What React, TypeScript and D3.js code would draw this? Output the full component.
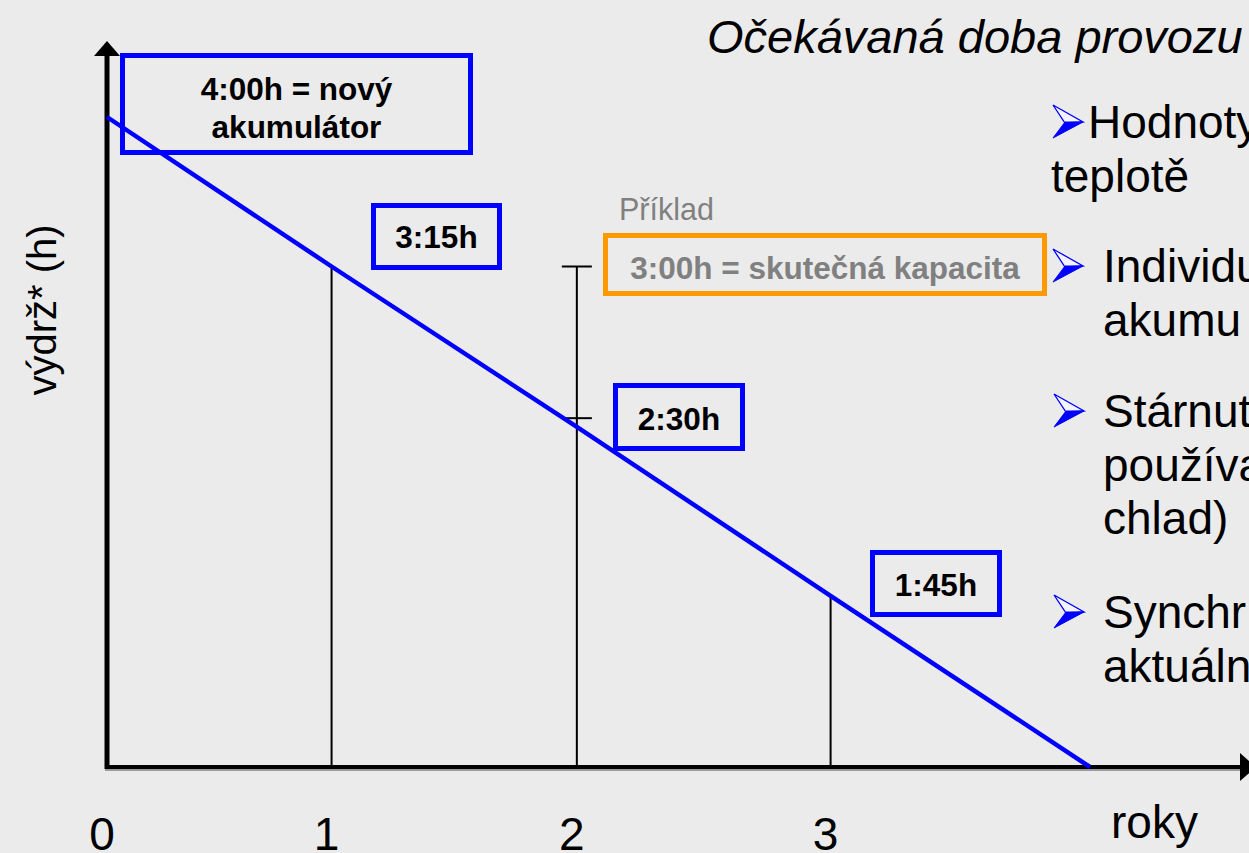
import React from 'react';
import * as d3 from 'd3';

// schematic battery runtime vs. age
const years = [0, 1, 2, 3, 4];
const hours = [4.0, 3.31, 2.57, 1.79, 1.0];
const dropYears = [1, 3];
const errYear = 2;
const errTop = 3.31;
const errMid = 2.61;
const tickLabels = ['0', '1', '2', '3'];

const bullets = [
  { lines: ['Hodnoty', 'teplotě'], hang: false },
  { lines: ['Individu', 'akumu'], hang: true },
  { lines: ['Stárnut', 'používa', 'chlad)'], hang: true },
  { lines: ['Synchr', 'aktuáln'], hang: true },
];

const W = 1249;
const H = 853;
const FONT = '"Liberation Sans", Arial, sans-serif';
const BLUE = '#0000ff';
const ORANGE = '#ff9900';
const GRAY = '#808080';

const Arrowhead = ({x, y}: {x: number, y: number}) => (
  <g>
    <path d={`M${x},${y} L${x + 30},${y + 17} L${x + 12},${y + 18} Z`} fill="#f4f4ff" stroke={BLUE} strokeWidth={1.3} />
    <path d={`M${x + 12},${y + 17} L${x + 30},${y + 17} L${x},${y + 33} Z`} fill={BLUE} stroke={BLUE} strokeWidth={1} />
  </g>
);

const Box = ({x, y, w, h, color, lines, textColor, baseline, lineGap = 38}: any) => (
  <g>
    <rect x={x} y={y} width={w} height={h} fill="none" stroke={color} strokeWidth={5} />
    {lines.map((t: string, i: number) => (
      <text key={i} x={x + w / 2} y={baseline + i * lineGap} textAnchor="middle"
        fontFamily={FONT} fontWeight="bold" fontSize={31.5} fill={textColor}>{t}</text>
    ))}
  </g>
);

export default function App() {
  // the slide's year spacing widens slightly to the right
  const x = d3.scalePow().exponent(1.065).domain([0, 4]).range([107, 1090]);
  const y = d3.scaleLinear().domain([1, 4]).range([767, 117]);

  const pts = years.map((t, i) => [x(t), y(hours[i])] as [number, number]);
  const line = d3.line()(pts) as string;
  const hAt = (t: number) => hours[years.indexOf(t)];

  const x0 = x(0);
  const yFloor = y(1);

  // bullet layout
  const bulletRows = [
    { ax: 1053, ay: 105, tx: 1088, base: 138 },
    { ax: 1053, ay: 249, tx: 1103, base: 282 },
    { ax: 1054, ay: 394, tx: 1103, base: 427 },
    { ax: 1054, ay: 595, tx: 1103, base: 628 },
  ];

  return (
    <svg width={W} height={H} style={{position: 'absolute', left: 0, top: 0}}>
      <rect width={W} height={H} fill="#ebebeb" />

      {/* title */}
      <text x={707} y={53} fontFamily={FONT} fontStyle="italic" fontSize={47}>Očekávaná doba provozu</text>

      {/* drop lines */}
      {dropYears.map(t => (
        <line key={t} x1={x(t)} x2={x(t)} y1={y(hAt(t))} y2={yFloor} stroke="#000" strokeWidth={2} />
      ))}

      {/* error bar */}
      <line x1={x(errYear)} x2={x(errYear)} y1={y(errTop)} y2={yFloor} stroke="#000" strokeWidth={2} />
      <line x1={x(errYear) - 15} x2={x(errYear) + 15} y1={y(errTop)} y2={y(errTop)} stroke="#000" strokeWidth={2} />
      <line x1={x(errYear) - 15} x2={x(errYear) + 15} y1={y(errMid)} y2={y(errMid)} stroke="#000" strokeWidth={2} />

      {/* axes */}
      <line x1={x0 - 2} x2={1240} y1={yFloor + 3} y2={yFloor + 3} stroke="#9a9a9a" strokeWidth={2} />
      <line x1={x0 - 2} x2={1240} y1={yFloor} y2={yFloor} stroke="#000" strokeWidth={4} />
      <path d={`M1240,${yFloor - 14} L1256,${yFloor} L1240,${yFloor + 14} Z`} fill="#000" />
      <line x1={x0} x2={x0} y1={yFloor + 2} y2={55} stroke="#000" strokeWidth={5} />
      <path d={`M${x0 - 13},56 L${x0},41 L${x0 + 13},56 Z`} fill="#000" />

      {/* runtime line */}
      <path d={line} fill="none" stroke={BLUE} strokeWidth={4.5} />

      {/* tick labels */}
      {tickLabels.map((l, i) => (
        <text key={l} x={x(i) - 5} y={850} textAnchor="middle" fontFamily={FONT} fontSize={46}>{l}</text>
      ))}
      <text x={1111} y={838} fontFamily={FONT} fontSize={46}>roky</text>
      <text transform="translate(56,310) rotate(-90)" textAnchor="middle" fontFamily={FONT} fontSize={40}>výdrž* (h)</text>

      {/* annotations */}
      <Box x={122.5} y={55.5} w={348} h={97} color={BLUE} textColor="#000" lines={['4:00h = nový', 'akumulátor']} baseline={100} />
      <Box x={373.5} y={205.5} w={126} h={62} color={BLUE} textColor="#000" lines={['3:15h']} baseline={248} />
      <text x={619} y={220} fontFamily={FONT} fontSize={30.5} fill={GRAY}>Příklad</text>
      <Box x={605.5} y={235.5} w={439} h={58} color={ORANGE} textColor={GRAY} lines={['3:00h = skutečná kapacita']} baseline={279} />
      <Box x={615.5} y={385.5} w={127} h={63} color={BLUE} textColor="#000" lines={['2:30h']} baseline={430} />
      <Box x={872.5} y={552.5} w={127} h={62} color={BLUE} textColor="#000" lines={['1:45h']} baseline={596} />

      {/* bullet text */}
      {bullets.map((b, i) => {
        const r = bulletRows[i];
        return (
          <g key={i}>
            <Arrowhead x={r.ax} y={r.ay} />
            {b.lines.map((t, j) => (
              <text key={j} x={j > 0 && !b.hang ? 1051 : r.tx} y={r.base + j * 53.5}
                fontFamily={FONT} fontSize={46}>{t}</text>
            ))}
          </g>
        );
      })}
    </svg>
  );
}
